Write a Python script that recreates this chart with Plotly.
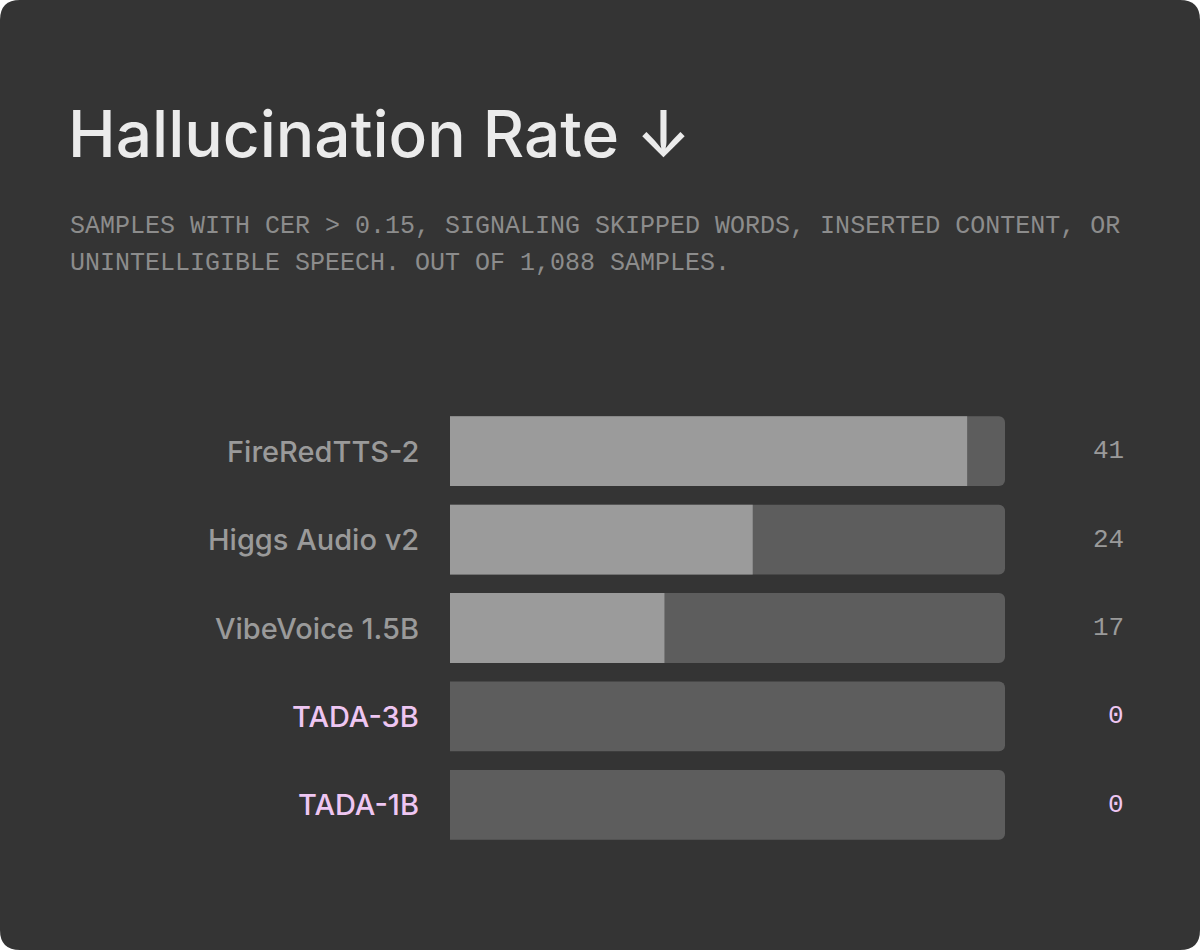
import plotly.graph_objects as go

# data
models = ["FireRedTTS-2", "Higgs Audio v2", "VibeVoice 1.5B", "TADA-3B", "TADA-1B"]
rates = [41, 24, 17, 0, 0]
ours = [False, False, False, True, True]
scale_max = 44

W, H = 1200, 950
L, R, T, B = 450, 195, 407, 101
PW, PH = W - L - R, H - T - B

BG = "#343434"
TRACK = "#5d5d5d"
FILL = "#9b9b9b"
GREY = "#9a9a9a"
PINK = "#eec6f2"


def px(x):
    return (x - L) / PW


def py(y):
    return (H - B - y) / PH


fig = go.Figure()

fig.add_trace(go.Bar(y=models, x=[scale_max] * len(models), orientation="h",
                     marker=dict(color=TRACK, line=dict(width=0)), width=0.79,
                     hoverinfo="skip", showlegend=False))
fig.add_trace(go.Bar(y=models, x=rates, orientation="h",
                     marker=dict(color=FILL, line=dict(width=0)), width=0.79,
                     hovertemplate="%{y}: %{x}<extra></extra>", showlegend=False))

# card with rounded corners
r = 20
card = (f"M {px(r)},{py(0)} L {px(W - r)},{py(0)} Q {px(W)},{py(0)} {px(W)},{py(r)} "
        f"L {px(W)},{py(H - r)} Q {px(W)},{py(H)} {px(W - r)},{py(H)} "
        f"L {px(r)},{py(H)} Q {px(0)},{py(H)} {px(0)},{py(H - r)} "
        f"L {px(0)},{py(r)} Q {px(0)},{py(0)} {px(r)},{py(0)} Z")
fig.add_shape(type="path", path=card, xref="paper", yref="paper",
              fillcolor=BG, line=dict(width=0), layer="below")

ann = []
ann.append(dict(text="Hallucination Rate ↓", x=px(66), y=py(133), xref="paper", yref="paper",
                xanchor="left", yanchor="middle", showarrow=False,
                font=dict(family="Inter", size=64, weight=500, color="#ebebeb")))
subtitle = ["SAMPLES WITH CER > 0.15, SIGNALING SKIPPED WORDS, INSERTED CONTENT, OR",
            "UNINTELLIGIBLE SPEECH. OUT OF 1,088 SAMPLES."]
for i, line in enumerate(subtitle):
    ann.append(dict(text=line, x=px(68), y=py(227 + 36 * i), xref="paper", yref="paper",
                    xanchor="left", yanchor="middle", showarrow=False,
                    font=dict(family="Liberation Mono", size=25, color="#8c8c8c")))

for m, v, o in zip(models, rates, ours):
    c = PINK if o else GREY
    ann.append(dict(text=m, x=px(421), y=m, xref="paper", yref="y",
                    xanchor="right", yanchor="middle", showarrow=False,
                    font=dict(family="Inter", size=29, weight=500, color=c)))
    ann.append(dict(text=str(v), x=px(1126), y=m, xref="paper", yref="y",
                    xanchor="right", yanchor="middle", showarrow=False,
                    font=dict(family="Liberation Mono", size=26, color=c)))

fig.update_layout(
    width=W, height=H,
    margin=dict(l=L, r=R, t=T, b=B, pad=0),
    paper_bgcolor="white",
    plot_bgcolor="rgba(0,0,0,0)",
    barmode="overlay",
    barcornerradius=6,
    annotations=ann,
    xaxis=dict(range=[0, scale_max], visible=False, fixedrange=True),
    yaxis=dict(categoryorder="array", categoryarray=models, range=[4.5, -0.5],
               visible=False, fixedrange=True),
)

fig.write_html("out.html", config={"displayModeBar": False},
               post_script="document.body.style.margin='0';")
